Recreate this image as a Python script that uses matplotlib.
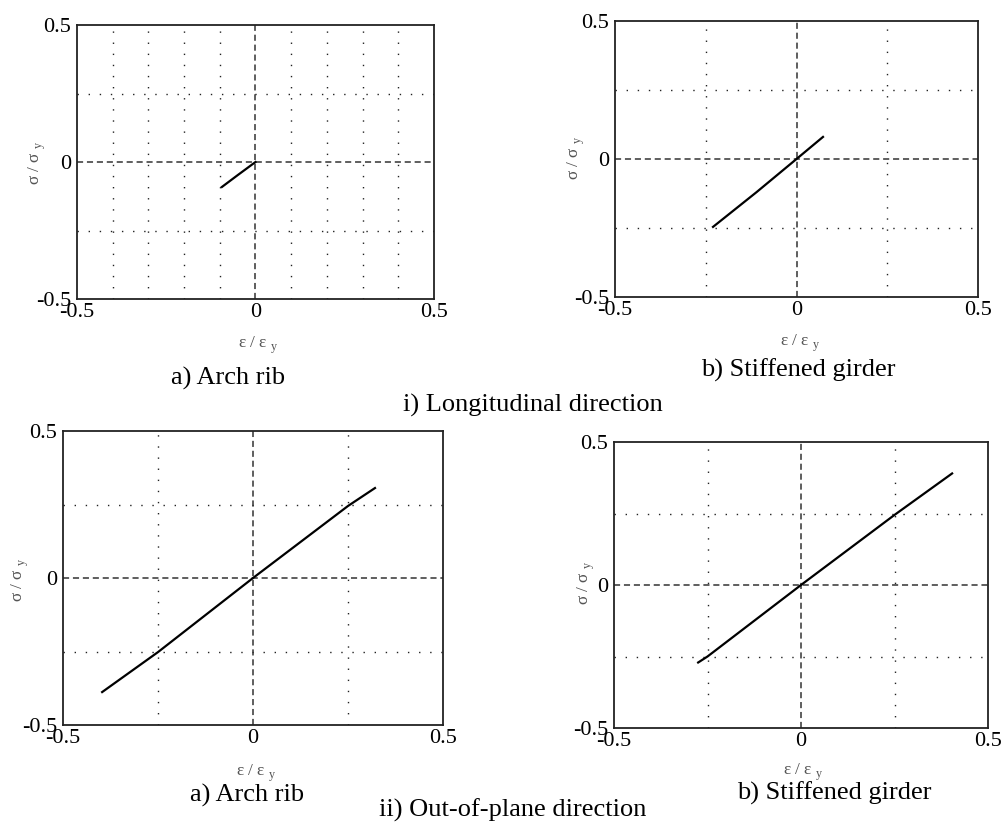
import matplotlib
matplotlib.use("Agg")
import matplotlib.pyplot as plt

plt.rcParams["font.family"] = ["Liberation Serif", "DejaVu Serif"]
plt.rcParams["mathtext.fontset"] = "custom"
plt.rcParams["mathtext.rm"] = "Liberation Serif"

# strain / stress paths (normalised by yield values)
arch_long_eps = [-0.094, -0.05, 0.0]
arch_long_sig = [-0.091, -0.048, 0.0]
girder_long_eps = [-0.230, -0.11, 0.0, 0.073]
girder_long_sig = [-0.246, -0.12, 0.0, 0.080]
arch_out_eps = [-0.397, -0.25, 0.0, 0.25, 0.321]
arch_out_sig = [-0.388, -0.252, 0.0, 0.245, 0.306]
girder_out_eps = [-0.275, -0.25, 0.0, 0.25, 0.404]
girder_out_sig = [-0.271, -0.25, 0.0, 0.245, 0.390]

tick_vals = [-0.5, 0, 0.5]
tick_text = ["-0.5", "0", "0.5"]
xgrid_fine = [-0.4, -0.3, -0.2, -0.1, 0.1, 0.2, 0.3, 0.4]
xgrid_coarse = [-0.25, 0.25]
ygrid = [-0.25, 0.25]

W, H = 1006, 826
fig = plt.figure(figsize=(W / 100, H / 100), dpi=100)


def px_axes(x0, y0, x1, y1):
    return fig.add_axes([x0 / W, 1 - y1 / H, (x1 - x0) / W, (y1 - y0) / H])


def ftext(x, y, s, **kw):
    fig.text(x / W, 1 - y / H, s, ha="center", va="center", **kw)


def panel(ax, eps, sig, xgrid):
    ax.set_xlim(-0.5, 0.5)
    ax.set_ylim(-0.5, 0.5)
    for g in xgrid:
        ax.axvline(g, color="#222222", lw=1.0, ls=(0, (1, 7)), zorder=1)
    for g in ygrid:
        ax.axhline(g, color="#222222", lw=1.0, ls=(0, (1, 7)), zorder=1)
    ax.axvline(0, color="#333333", lw=1.1, ls=(0, (4, 2.5)), zorder=1)
    ax.axhline(0, color="#333333", lw=1.1, ls=(0, (4, 2.5)), zorder=1)
    ax.plot(eps, sig, color="black", lw=1.6, zorder=3)
    ax.set_xticks(tick_vals)
    ax.set_xticklabels(tick_text)
    ax.set_yticks(tick_vals)
    ax.set_yticklabels(tick_text)
    ax.tick_params(length=0, labelsize=16, pad=3)
    ax.tick_params(axis="y", pad=4)
    for sp in ax.spines.values():
        sp.set_color("#222222")
        sp.set_linewidth(1.3)


ylab = "σ / σ $_{\\rm y}$"
xlab = "ε / ε $_{\\rm y}$"
lab_kw = dict(fontsize=12.5, color="#555555")

ax1 = px_axes(77, 25, 434, 299)
panel(ax1, arch_long_eps, arch_long_sig, xgrid_fine)
ax2 = px_axes(615, 21, 978, 297)
panel(ax2, girder_long_eps, girder_long_sig, xgrid_coarse)
ax3 = px_axes(63, 431, 443, 725)
panel(ax3, arch_out_eps, arch_out_sig, xgrid_coarse)
ax4 = px_axes(614, 442, 988, 728)
panel(ax4, girder_out_eps, girder_out_sig, xgrid_coarse)

ftext(37, 163, ylab, rotation=90, **lab_kw)
ftext(576, 158, ylab, rotation=90, **lab_kw)
ftext(20, 580, ylab, rotation=90, **lab_kw)
ftext(586, 583, ylab, rotation=90, **lab_kw)

ftext(258, 345, xlab, **lab_kw)
ftext(800, 343, xlab, **lab_kw)
ftext(256, 773, xlab, **lab_kw)
ftext(803, 772, xlab, **lab_kw)

cap = dict(fontsize=19)
ftext(228, 378, "a) Arch rib", **cap)
ftext(798, 370, "b) Stiffened girder", **cap)
ftext(533, 405, "i) Longitudinal direction", **cap)
ftext(247, 795, "a) Arch rib", **cap)
ftext(834, 793, "b) Stiffened girder", **cap)
ftext(513, 810, "ii) Out-of-plane direction", **cap)

fig.savefig("out.png", dpi=100)
